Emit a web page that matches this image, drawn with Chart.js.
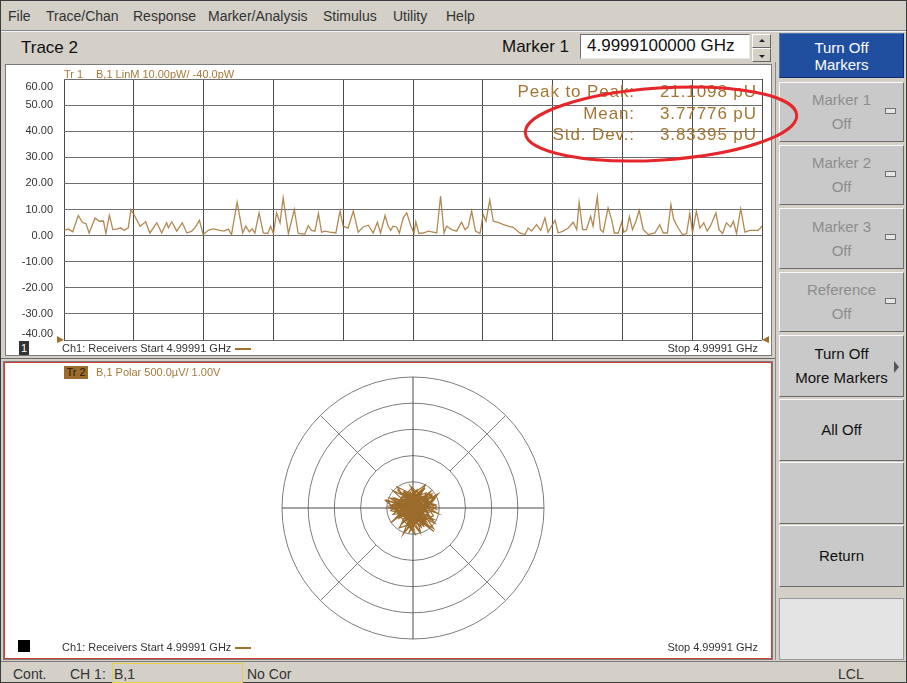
<!DOCTYPE html>
<html>
<head>
<meta charset="utf-8">
<title>Trace 2</title>
<script src="https://cdn.jsdelivr.net/npm/chart.js@4.4.1/dist/chart.umd.min.js"></script>
<style>
  * { box-sizing: border-box; }
  body { margin: 0; width: 907px; height: 683px; position: relative; overflow: hidden;
         background: #d4d0c8; font-family: "Liberation Sans", Arial, sans-serif; color: #2a2a2a; }
  .a { position: absolute; white-space: nowrap; }
  .menu { top: 8px; font-size: 14px; color: #333; line-height: 16px; }
  .small { font-size: 11px; line-height: 14px; color: #333; }
  .brown { color: #a47a3a; }
  .btn { position: absolute; left: 779px; width: 125px; background: #c9c9c9;
         border: 1px solid; border-color: #fafafa #6a6a6a #6a6a6a #fafafa;
         font-size: 15px; line-height: 24px; text-align: center; color: #111;
         display: flex; flex-direction: column; justify-content: center; }
  .btn.dis { color: #8d8d8d; }
  .led { position: absolute; right: 7px; top: 25px; width: 11px; height: 6px;
         border: 1px solid #707070; background: #e6e6e6; }
  .stat { font-size: 17px; letter-spacing: 0.9px; color: #a27632; line-height: 21.5px; }
  .status { top: 666px; font-size: 14px; line-height: 16px; color: #333; }
</style>
</head>
<body>
<div class="a" style="left:0;top:0;width:907px;height:683px;border:1px solid #3c3c3c;"></div>

<!-- menu bar -->
<span class="a menu" style="left:8px">File</span>
<span class="a menu" style="left:46px">Trace/Chan</span>
<span class="a menu" style="left:133px">Response</span>
<span class="a menu" style="left:208px">Marker/Analysis</span>
<span class="a menu" style="left:323px">Stimulus</span>
<span class="a menu" style="left:393px">Utility</span>
<span class="a menu" style="left:446px">Help</span>
<div class="a" style="left:1px;top:30px;width:905px;height:1px;background:#8a8a8a"></div>
<div class="a" style="left:1px;top:31px;width:905px;height:1px;background:#f4f4f4"></div>

<!-- trace header -->
<span class="a" style="left:21px;top:38px;font-size:17px;line-height:20px;color:#111">Trace 2</span>
<span class="a" style="left:502px;top:37px;font-size:17px;line-height:20px;color:#111">Marker 1</span>
<div class="a" style="left:580px;top:34px;width:170px;height:25px;background:#fff;border:1px solid;border-color:#707070 #e8e8e8 #e8e8e8 #707070;font-size:17px;line-height:22px;padding-left:6px;color:#111">4.9999100000 GHz</div>
<div class="a" style="left:752px;top:34px;width:19px;height:14px;background:#d4d0c8;border:1px solid;border-color:#fff #666 #666 #fff"></div>
<div class="a" style="left:752px;top:48px;width:19px;height:14px;background:#d4d0c8;border:1px solid;border-color:#fff #666 #666 #fff"></div>
<div class="a" style="left:759px;top:39px;width:0;height:0;border-left:3px solid transparent;border-right:3px solid transparent;border-bottom:3px solid #222"></div>
<div class="a" style="left:759px;top:55px;width:0;height:0;border-left:3px solid transparent;border-right:3px solid transparent;border-top:3px solid #222"></div>

<!-- top panel -->
<div class="a" style="left:5px;top:64px;width:767px;height:292px;background:#fff;border:1px solid #7a7a7a"></div>
<canvas id="magChart" class="a" width="765" height="290" style="left:6px;top:65px"></canvas>
<span class="a small brown" style="left:64px;top:67px">Tr 1</span>
<span class="a small brown" style="left:96px;top:67px">B,1 LinM 10.00pW/ -40.0pW</span>
<div class="a stat" style="right:272px;top:81px;text-align:right">Peak to Peak:<br>Mean:<br>Std. Dev.:</div>
<div class="a stat" style="left:660px;top:81px">21.1098 pU<br>3.77776 pU<br>3.83395 pU</div>
<div class="a small" style="left:19px;top:341px;width:10px;height:14px;background:#333;color:#fff;text-align:center">1</div>
<span class="a small" style="left:62px;top:341px">Ch1: Receivers Start 4.99991 GHz</span>
<div class="a" style="left:235px;top:348px;width:16px;height:2px;background:#a0702c"></div>
<span class="a small" style="right:149px;top:341px">Stop 4.99991 GHz</span>

<div class="a" style="left:1px;top:358px;width:774px;height:1px;background:#6a6a6a"></div>

<!-- bottom panel -->
<div class="a" style="left:4px;top:362px;width:768px;height:297px;background:#fff;border:1px solid #d83a3a;box-shadow:0 0 0 1px #7a7a7a"></div>
<canvas id="polarChart" class="a" width="270" height="270" style="left:278px;top:373px"></canvas>
<div class="a small" style="left:64px;top:366px;width:24px;height:13px;line-height:13px;background:#9c6c2c;color:#2a1a08;text-align:center">Tr 2</div>
<span class="a small brown" style="left:96px;top:365px">B,1 Polar 500.0µV/ 1.00V</span>
<div class="a" style="left:18px;top:640px;width:12px;height:12px;background:#000"></div>
<span class="a small" style="left:62px;top:640px">Ch1: Receivers Start 4.99991 GHz</span>
<div class="a" style="left:235px;top:647px;width:16px;height:2px;background:#a0702c"></div>
<span class="a small" style="right:149px;top:640px">Stop 4.99991 GHz</span>

<!-- right panel -->
<div class="a" style="left:775px;top:62px;width:1px;height:598px;background:#8a8a8a"></div>
<div class="btn" style="top:33px;height:45px;background:#1f4f9e;border-color:#4a74b8 #0d2d6a #0d2d6a #4a74b8;color:#fff;line-height:17px">Turn Off<br>Markers</div>
<div class="btn dis" style="top:82px;height:60px">Marker 1<br>Off<div class="led"></div></div>
<div class="btn dis" style="top:145px;height:60px">Marker 2<br>Off<div class="led"></div></div>
<div class="btn dis" style="top:208px;height:61px">Marker 3<br>Off<div class="led"></div></div>
<div class="btn dis" style="top:272px;height:60px">Reference<br>Off<div class="led"></div></div>
<div class="btn" style="top:335px;height:62px">Turn Off<br>More Markers
  <div class="a" style="left:114px;top:25px;width:0;height:0;border-top:6px solid transparent;border-bottom:6px solid transparent;border-left:5px solid #555"></div></div>
<div class="btn" style="top:399px;height:62px">All Off</div>
<div class="btn" style="top:462px;height:62px"></div>
<div class="btn" style="top:525px;height:62px">Return</div>
<div class="a" style="left:779px;top:598px;width:125px;height:62px;background:#e4e4e4;border:1px solid #9a9a9a"></div>

<!-- status bar -->
<div class="a" style="left:1px;top:661px;width:905px;height:1px;background:#7a7a7a"></div>
<span class="a status" style="left:13px">Cont.</span>
<span class="a status" style="left:70px">CH 1:</span>
<div class="a" style="left:112px;top:663px;width:131px;height:20px;border:1px solid #e2d04a"></div>
<span class="a status" style="left:114px">B,1</span>
<span class="a status" style="left:247px">No Cor</span>
<span class="a status" style="left:838px">LCL</span>

<!-- highlight -->
<svg class="a" style="left:0;top:0" width="907" height="683">
  <ellipse cx="661" cy="124" rx="136" ry="36" transform="rotate(-3.8 661 124)"
           fill="none" stroke="#e5262b" stroke-width="3"/>
</svg>

<script>
// Trace 1: linear magnitude (pW) against sweep point
const sweepPoint = [
  0, 1.2, 2.5, 4.1, 5.3, 6.3, 7.2, 8.9, 10.1, 11.3,
  12.0, 13.0, 14.0, 15.1, 16.3, 17.2, 18.4, 19.2, 20.3, 21.8,
  23.4, 24.6, 26.6, 28.0, 29.4, 29.9, 30.9, 32.3, 33.9, 35.2,
  36.6, 37.5, 38.8, 39.9, 41.3, 42.8, 44.7, 45.8, 47.1, 48.0,
  49.6, 51.2, 52.1, 53.1, 53.9, 54.7, 55.9, 57.1, 58.4, 59.2,
  60.0, 60.9, 61.9, 62.8, 64.3, 66.0, 67.1,
  69.0, 70.0, 70.9, 71.9, 72.9, 73.8, 74.8, 76.2, 77.9, 79.1,
  80.0, 81.4, 82.9, 84.3, 85.7, 87.2, 88.6, 89.8, 90.7, 92.0,
  92.9, 93.6, 94.3, 95.3, 96.1, 97.2, 98.2, 99.4, 100.3, 100.8,
  101.7, 102.9, 104.4, 105.8, 106.8, 107.9, 108.9, 109.6, 111.1, 112.5,
  113.9, 114.9, 115.8, 116.8, 117.9, 119.2, 120.1, 120.9, 122.0, 123.0,
  124.4, 125.9, 127.3, 128.7, 130.6, 132.1, 133.0, 134.0, 135.4, 136.6,
  137.8, 138.7, 139.7, 140.7, 141.6, 143.0, 144.5, 145.9, 146.9, 147.6,
  148.6, 149.7, 150.9, 151.6, 152.8, 153.7, 154.5, 155.9, 156.9, 157.7,
  158.8, 159.8, 160.4, 161.2, 162.0, 162.9, 163.9, 164.8, 166.0, 167.4,
  169.3, 170.7, 171.7, 172.9, 173.9, 174.7, 176.0, 177.2, 178.4, 179.3,
  180.1, 181.2, 182.2, 183.3, 184.3, 185.2, 186.8, 187.7, 188.7, 189.8,
  191.0, 191.8, 192.7, 193.9, 195.1, 196.5, 198.0, 198.9, 200
];
const traceLevel = [
  2, 2.5, 1.5, 7.7, 5, 4.6, 1, 6.7, 5.5, 5.6,
  0.8, 7.8, 2.3, 2.5, 3, 2, 3, 9.9, 7.4, 3.6,
  5.3, 1, 4.9, 1, 4.9, 3, 5.3, 1.7, 4.9, 1,
  1.7, 3, 5.8, 0.4, 2, 2.6, 2, 1.7, 2.5, 0.4,
  12.8, 1, 3.6, 1.4, 2.6, 1, 8.7, 1, 0.8, 3.6,
  0.8, 8.7, 4.9, 14.5, 0.8, 10, 0.8,
  0.6, 3.8, 2, 1.7, 8.5, 1.3, 1.7, 1.3, 1, 9.4,
  3.6, 2.9, 9.4, 1.3, 3.3, 4, 1, 5.1, 1, 7.7,
  3.6, 2, 3.6, 3.3, 1, 6.8, 8.7, 3.6, 1, 5.3,
  0.8, 1, 1.7, 1.3, 1, 15.1, 1, 3.6, 2.3, 1.7,
  5.1, 2.3, 3.3, 9.4, 1.7, 0.8, 8.1, 5.5, 13.6, 5.5,
  5.1, 4.2, 3.6, 3.2, 1, 0.4, 2.9, 1.7, 4.2, 2,
  6.8, 1.3, 3.6, 5.9, 1, 1.7, 2.9, 5.1, 2.3, 12.6,
  2.3, 2.3, 7.4, 3.6, 14.9, 2.3, 1.3, 10.6, 6.2, 1,
  1, 5.1, 1.3, 2, 7.2, 2.3, 5.5, 9.7, 2.3, 0.4,
  1, 4.2, 1, 1, 11.9, 6.2, 2.9, 0.4, 0.8, 8.5,
  1.3, 9.4, 2.9, 4.9, 1.7, 3.6, 8.7, 2.3, 0.8, 4.9,
  3.3, 5.5, 0.8, 10.3, 1.3, 2, 2, 2, 3.6
];
const magTicks = [-40, -30, -20, -10, 0, 10, 20, 30, 40, 50, 60];
const refLevel = -40;

// Trace 2: polar (real, imaginary) in µV, 500 µV per ring
const polarPts = [
  [-120, 180], [210, -240], [-340, 60], [80, 320], [390, -150], [-260, -380], [30, 240], [-450, 40], [310, 130], [-90, -300],
  [170, 350], [-380, -120], [260, -60], [-40, 410], [440, -20], [-210, 210], [120, -450], [-310, 90], [360, 270], [-150, -200],
  [60, -520], [-500, 150], [280, -80], [-20, 330], [150, -340], [-270, 20], [400, 200], [-60, -260], [230, 440], [-420, -50],
  [90, -170], [330, 110], [-180, 300], [20, -400], [-350, 170], [470, -100], [-110, 250], [190, -310], [-240, 70], [350, -230],
  [-30, 380], [130, -140], [-460, 0], [250, 290], [-80, -480], [300, 160], [-200, -30], [40, 230], [420, -290], [-330, 50],
  [160, -370], [-10, 390], [-290, 120], [380, -210], [-140, -90], [70, 340], [-390, -20], [220, 190], [10, -330], [-230, 80],
  [320, -160], [-70, 260], [140, -440], [-520, 140], [270, -60], [-160, 310], [100, -250], [450, 30], [-300, 400], [50, -120],
  [-100, -300], [240, 220], [-360, -30], [180, 90], [-50, -410], [410, 170], [-250, -190], [110, 280], [-410, 10], [290, -350],
  [-130, 130], [200, -90], [-20, 360], [340, -220], [-280, 40], [0, -140], [370, 250], [-190, -500], [60, 100], [-440, 190],
  [260, -270], [-60, 320], [150, -40], [-320, -180], [430, 60], [-90, 230], [210, -360], [-170, 140], [30, -80], [310, 300],
  [-370, -230], [120, 20], [-240, -120], [480, 270], [-120, -420], [80, 80], [-300, 350], [190, -160], [-20, -40], [350, 210],
  [-210, -300], [90, 110], [-380, 330], [240, -250], [-150, -60], [20, 170], [390, -390], [-260, 40], [130, 240], [-80, -110],
  [280, -330], [-350, 190], [170, 0], [-40, -210], [320, 290], [-190, -140], [50, 100], [-420, -280], [230, 380], [-110, -70],
  [400, -450], [-270, 160], [100, 60], [-30, -190], [260, 90]
];
const polarDiv = 500;
const polarRings = 5;

const uiFont = '"Liberation Sans", Arial, sans-serif';

// y labels (first/last pulled inside the grid) and reference arrows
const magLabels = {
  id: 'magLabels',
  afterDraw(chart) {
    const { ctx, chartArea, scales: { y } } = chart;
    ctx.save();
    ctx.font = '11px ' + uiFont;
    ctx.fillStyle = '#333';
    ctx.textAlign = 'right';
    ctx.textBaseline = 'middle';
    y.ticks.forEach(t => {
      let py = y.getPixelForValue(t.value);
      if (t.value === y.max) py += 8;
      if (t.value === y.min) py -= 6;
      ctx.fillText(t.value.toFixed(2), 47, py);
    });
    const ry = y.getPixelForValue(refLevel);
    ctx.fillStyle = '#a0702c';
    ctx.beginPath();
    ctx.moveTo(chartArea.left - 7, ry - 4);
    ctx.lineTo(chartArea.left, ry);
    ctx.lineTo(chartArea.left - 7, ry + 3);
    ctx.closePath();
    ctx.fill();
    ctx.beginPath();
    ctx.moveTo(chartArea.right + 7, ry - 4);
    ctx.lineTo(chartArea.right, ry);
    ctx.lineTo(chartArea.right + 7, ry + 3);
    ctx.closePath();
    ctx.fill();
    ctx.restore();
  }
};

new Chart(document.getElementById('magChart'), {
  type: 'scatter',
  data: {
    datasets: [{
      data: sweepPoint.map((x, i) => ({ x, y: traceLevel[i] })),
      showLine: true,
      borderColor: 'rgba(164,116,52,0.85)',
      borderWidth: 1.3,
      pointRadius: 0
    }]
  },
  options: {
    responsive: false,
    animation: false,
    devicePixelRatio: 1,
    layout: { padding: { left: 58, right: 9, top: 14, bottom: 15 } },
    plugins: { legend: { display: false }, tooltip: { enabled: false } },
    scales: {
      x: {
        type: 'linear', min: 0, max: 200,
        ticks: { display: false, stepSize: 20 },
        grid: { color: '#4a4a4a', drawTicks: false },
        border: { display: false },
        afterFit: s => { s.height = 0; }
      },
      y: {
        min: magTicks[0], max: magTicks[magTicks.length - 1],
        afterBuildTicks: s => { s.ticks = magTicks.map(v => ({ value: v })); },
        ticks: { display: false },
        grid: { color: '#6e6e6e', drawTicks: false },
        border: { display: false },
        afterFit: s => { s.width = 0; }
      }
    }
  },
  plugins: [magLabels]
});

// polar grid: rings, axes, and diagonal spokes from ring 2 outward
const polarGrid = {
  id: 'polarGrid',
  beforeDatasetsDraw(chart) {
    const { ctx, scales: { x, y } } = chart;
    const cx = x.getPixelForValue(0), cy = y.getPixelForValue(0);
    const step = x.getPixelForValue(polarDiv) - cx;
    const R = polarRings * step;
    ctx.save();
    ctx.lineWidth = 1;
    ctx.strokeStyle = '#7c7c7c';
    for (let k = 1; k <= polarRings; k++) {
      ctx.beginPath();
      ctx.arc(cx, cy, k * step, 0, 2 * Math.PI);
      ctx.stroke();
    }
    ctx.beginPath();
    for (let a = 45; a < 360; a += 90) {
      const c = Math.cos(a * Math.PI / 180), s = Math.sin(a * Math.PI / 180);
      ctx.moveTo(cx + 2 * step * c, cy + 2 * step * s);
      ctx.lineTo(cx + R * c, cy + R * s);
    }
    ctx.stroke();
    ctx.strokeStyle = '#4a4a4a';
    ctx.beginPath();
    ctx.moveTo(cx - R, cy); ctx.lineTo(cx + R, cy);
    ctx.moveTo(cx, cy - R); ctx.lineTo(cx, cy + R);
    ctx.stroke();
    ctx.restore();
  }
};

const span = polarDiv * polarRings;
new Chart(document.getElementById('polarChart'), {
  type: 'scatter',
  data: {
    datasets: [{
      data: polarPts.map(p => ({ x: p[0], y: p[1] })),
      showLine: true,
      borderColor: '#9b6b2b',
      borderWidth: 1.2,
      pointRadius: 0
    }]
  },
  options: {
    responsive: false,
    animation: false,
    devicePixelRatio: 1,
    layout: { padding: 4 },
    plugins: { legend: { display: false }, tooltip: { enabled: false } },
    scales: {
      x: { type: 'linear', min: -span, max: span, display: false },
      y: { type: 'linear', min: -span, max: span, display: false }
    }
  },
  plugins: [polarGrid]
});
</script>
</body>
</html>
